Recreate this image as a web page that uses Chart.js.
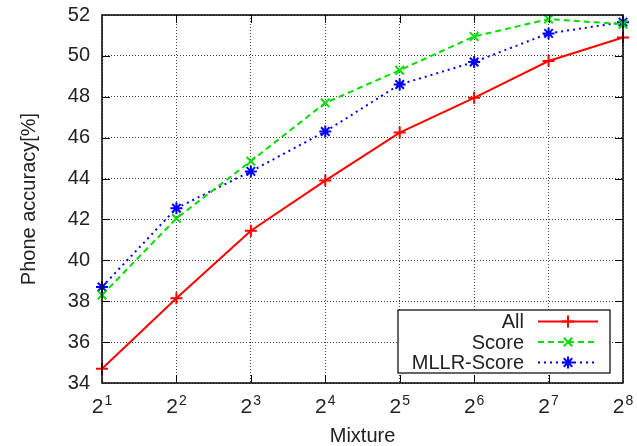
<!DOCTYPE html>
<html>
<head>
<meta charset="utf-8">
<script src="https://cdn.jsdelivr.net/npm/chart.js@4/dist/chart.umd.min.js"></script>
<style>
  html, body { margin: 0; padding: 0; background: #fff; }
  #wrap { width: 637px; height: 446px; }
</style>
</head>
<body>
<div id="wrap"><canvas id="chart"></canvas></div>
<script>
// x axis: mixtures 2^1 .. 2^8
const exponents = [1, 2, 3, 4, 5, 6, 7, 8];
const seriesNames = ["All", "Score", "MLLR-Score"];
const allValues = [34.7, 38.15, 41.45, 43.9, 46.25, 47.95, 49.75, 50.9];
const scoreValues = [38.3, 42.05, 44.85, 47.7, 49.3, 50.95, 51.8, 51.55];
const mllrValues = [38.7, 42.55, 44.35, 46.3, 48.6, 49.7, 51.1, 51.65];
const yMin = 34, yMax = 52, yStep = 2;

const FONT = "'Liberation Sans', Arial, sans-serif";

// frame, inward ticks on all sides, 2^n labels, legend box (gnuplot look)
const gnuplotBits = {
  id: "gnuplotBits",
  afterDatasetsDraw(chart) {
    const { ctx, chartArea: a, scales } = chart;
    const xs = scales.x, ys = scales.y;
    ctx.save();
    ctx.strokeStyle = "#000";
    ctx.lineWidth = 1.5;
    ctx.setLineDash([]);
    ctx.strokeRect(a.left, a.top, a.right - a.left, a.bottom - a.top);

    ctx.lineWidth = 1;
    const tl = 8;
    ctx.beginPath();
    exponents.forEach((e, i) => {
      if (i === 0 || i === exponents.length - 1) return;
      const x = Math.round(xs.getPixelForValue(i)) + 0.5;
      ctx.moveTo(x, a.bottom); ctx.lineTo(x, a.bottom - tl);
      ctx.moveTo(x, a.top); ctx.lineTo(x, a.top + tl);
    });
    for (let v = yMin + yStep; v < yMax; v += yStep) {
      const y = Math.round(ys.getPixelForValue(v)) + 0.5;
      ctx.moveTo(a.left, y); ctx.lineTo(a.left + tl, y);
      ctx.moveTo(a.right, y); ctx.lineTo(a.right - tl, y);
    }
    ctx.stroke();

    // legend
    const box = { l: 398, t: 310, r: 610, b: 373 };
    ctx.fillStyle = "#fff";
    ctx.fillRect(box.l, box.t, box.r - box.l, box.b - box.t);
    ctx.strokeStyle = "#000";
    ctx.lineWidth = 1.2;
    ctx.strokeRect(box.l, box.t, box.r - box.l, box.b - box.t);
    ctx.font = "20px " + FONT;
    ctx.textAlign = "right";
    ctx.textBaseline = "middle";
    chart.data.datasets.forEach((ds, i) => {
      const y = 321.5 + i * 20.5;
      ctx.fillStyle = "#222";
      ctx.fillText(ds.label, 524, y + 1);
      ctx.strokeStyle = ds.borderColor;
      ctx.lineWidth = ds.borderWidth;
      ctx.setLineDash(ds.borderDash || []);
      ctx.beginPath();
      ctx.moveTo(538, y); ctx.lineTo(598, y);
      ctx.stroke();
      ctx.setLineDash([]);
      ctx.lineWidth = ds.pointBorderWidth;
      Chart.helpers.drawPoint(ctx, {
        pointStyle: ds.pointStyle, radius: ds.pointRadius,
        rotation: 0, borderWidth: ds.pointBorderWidth
      }, 568, y);
    });
    ctx.restore();
  },
  afterDraw(chart) {
    const { ctx, scales } = chart;
    const xs = scales.x;
    ctx.save();
    ctx.fillStyle = "#222";
    ctx.textBaseline = "alphabetic";
    ctx.textAlign = "left";
    exponents.forEach((e, i) => {
      const x = xs.getPixelForValue(i);
      ctx.font = "21px " + FONT;
      const w1 = ctx.measureText("2").width;
      ctx.font = "14px " + FONT;
      const w2 = ctx.measureText(String(e)).width;
      const x0 = x - (w1 + 1 + w2) / 2;
      ctx.font = "21px " + FONT;
      ctx.fillText("2", x0, 413);
      ctx.font = "14px " + FONT;
      ctx.fillText(String(e), x0 + w1 + 1, 405);
    });
    ctx.restore();
  }
};

const ctx = document.getElementById("chart").getContext("2d");

new Chart(ctx, {
  type: "line",
  data: {
    labels: exponents.map(e => "2^" + e),
    datasets: [
      {
        label: seriesNames[0], data: allValues,
        borderColor: "#ff0000", backgroundColor: "#ff0000",
        borderWidth: 2, pointStyle: "cross", pointRadius: 6,
        pointBorderWidth: 2, pointBackgroundColor: "#ff0000",
        tension: 0, clip: false
      },
      {
        label: seriesNames[1], data: scoreValues,
        borderColor: "#00e000", backgroundColor: "#00e000",
        borderWidth: 2, borderDash: [6, 4], pointStyle: "crossRot", pointRadius: 6,
        pointBorderWidth: 2, pointBackgroundColor: "#00e000",
        tension: 0, clip: false
      },
      {
        label: seriesNames[2], data: mllrValues,
        borderColor: "#0000ff", backgroundColor: "#0000ff",
        borderWidth: 2, borderDash: [2, 4], pointStyle: "star", pointRadius: 6,
        pointBorderWidth: 2, pointBackgroundColor: "#0000ff",
        tension: 0, clip: false
      }
    ]
  },
  options: {
    responsive: true,
    maintainAspectRatio: false,
    animation: false,
    layout: { padding: { left: 0, top: 15, right: 14, bottom: 0 } },
    plugins: {
      legend: { display: false },
      tooltip: { enabled: false }
    },
    scales: {
      x: {
        offset: false,
        grid: { color: "#444", lineWidth: 1, drawTicks: false },
        border: { display: false, dash: [1, 2] },
        ticks: { display: false },
        title: {
          display: true, text: "Mixture", color: "#222",
          font: { family: FONT, size: 20, lineHeight: 1 },
          padding: { top: 0, bottom: 0 }
        },
        afterFit(scale) {
          scale.height = 63;
          scale.paddingLeft = 0; scale.paddingRight = 0;
        }
      },
      y: {
        min: yMin, max: yMax,
        grid: { color: "#444", lineWidth: 1, drawTicks: false },
        border: { display: false, dash: [1, 2] },
        ticks: {
          stepSize: yStep, padding: 12, color: "#222",
          font: { family: FONT, size: 20 }
        },
        title: {
          display: true, text: "Phone accuracy[%]", color: "#222",
          font: { family: FONT, size: 20, lineHeight: 1 },
          padding: { top: 19, bottom: 0 }
        },
        afterFit(scale) {
          scale.width = 102;
          scale.paddingTop = 0; scale.paddingBottom = 0;
        }
      }
    }
  },
  plugins: [gnuplotBits]
});
</script>
</body>
</html>
